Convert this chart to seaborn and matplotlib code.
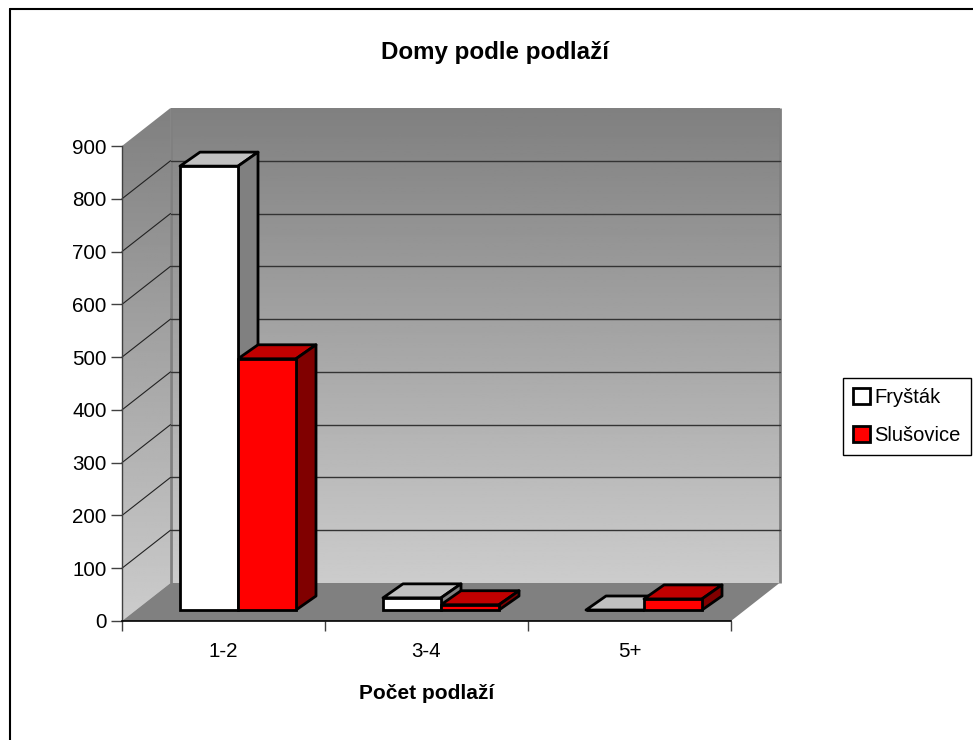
import numpy as np
import pandas as pd
import matplotlib
matplotlib.use('Agg')
import matplotlib.pyplot as plt
from matplotlib.lines import Line2D
from matplotlib.patches import Polygon, Rectangle
import seaborn as sns

sns.set_style('white')
plt.rcParams['font.family'] = ['Liberation Sans', 'DejaVu Sans']
plt.rcParams['text.color'] = 'black'
plt.rcParams['xtick.labelcolor'] = 'black'
plt.rcParams['ytick.labelcolor'] = 'black'
plt.rcParams['axes.labelcolor'] = 'black'

categories = ['1-2', '3-4', '5+']
frystak = [841, 23, 0]
slusovice = [476, 10, 21]
y_ticks = [0, 100, 200, 300, 400, 500, 600, 700, 800, 900]

W, H = 973, 740
fig = plt.figure(figsize=(W / 100, H / 100), dpi=100)
# axes rectangle = front plane of the 3d box, in pixels of the reference
L, R, B, T = 122, 731, 621, 146
ax = fig.add_axes([L / W, 1 - B / H, (R - L) / W, (B - T) / H])

df = pd.DataFrame({
    'cat': categories * 2,
    'val': frystak + slusovice,
    'mesto': ['Fryšták'] * 3 + ['Slušovice'] * 3,
})
sns.barplot(data=df, x='cat', y='val', hue='mesto', palette=['white', '#ff0000'],
            width=116 / 203, gap=0, saturation=1, edgecolor='black', linewidth=2,
            legend=False, ax=ax, zorder=6)
ax.set_xlim(-0.5, 2.5)
ax.set_ylim(0, 900)

# pixels to data units
px = 3 / (R - L)
py = 900 / (B - T)


def shifted(pts, dx, dy):
    return [(x + dx * px, y + dy * py) for x, y in pts]


def poly(pts, z=2, **kw):
    p = Polygon(pts, closed=True, clip_on=False, zorder=z, **kw)
    ax.add_patch(p)
    return p


bars = [b for b in ax.patches if isinstance(b, Rectangle)][:6]

# walls, first row of the gradient is the bottom
DX, DY = 48.5, 38
x0, x1 = ax.get_xlim()
grad = np.linspace(204, 128, 256).reshape(-1, 1)
back = ax.imshow(grad, cmap='gray', vmin=0, vmax=255, aspect='auto', origin='lower', zorder=1,
                 extent=[x0 + DX * px, x1 + DX * px, DY * py, 900 + DY * py])
back.set_clip_on(False)
left_pts = [(x0, 0), (x0 + DX * px, DY * py), (x0 + DX * px, 900 + DY * py), (x0, 900)]
left = ax.imshow(grad, cmap='gray', vmin=0, vmax=255, aspect='auto', origin='lower', zorder=1,
                 extent=[x0, x0 + DX * px, 0, 900 + DY * py])
left.set_clip_path(Polygon(left_pts, closed=True, transform=ax.transData))
left.set_clip_box(fig.bbox)
ax.set_xlim(x0, x1)
ax.set_ylim(0, 900)

poly([(x0, 0), (x1, 0), (x1 + DX * px, DY * py), (x0 + DX * px, DY * py)], z=3, facecolor='#808080', edgecolor='none')
ax.plot([x0 + DX * px] * 2, [DY * py, 900 + DY * py], color='#808080', lw=2, clip_on=False, zorder=2, solid_capstyle='butt')
ax.plot([x1 + DX * px] * 2, [DY * py, 900 + DY * py], color='#808080', lw=2, clip_on=False, zorder=2, solid_capstyle='butt')

for v in y_ticks[1:-1]:
    ax.plot([x0 + DX * px, x1 + DX * px], [v + DY * py] * 2, color='#333333', lw=1, clip_on=False, zorder=2.5)
    ax.plot([x0, x0 + DX * px], [v, v + DY * py], color='#222222', lw=0.8, clip_on=False, zorder=2.5)

# 3d sides of the bars, the front faces come from seaborn
FX, FY = 14.5, 11
BX, BY = 20, 14
for b in bars:
    b.set_x(b.get_x() + FX * px)
    b.set_y(FY * py)
    b.set_clip_on(False)
    xa, xb = b.get_x(), b.get_x() + b.get_width()
    ya, yb = FY * py, FY * py + b.get_height()
    red = b.get_facecolor()[1] < 0.5
    top_c = '#c00000' if red else '#c0c0c0'
    side_c = '#800000' if red else '#808080'
    poly([(xa, yb), (xb, yb)] + shifted([(xb, yb), (xa, yb)], BX, BY), z=5,
         facecolor=top_c, edgecolor='black', linewidth=2, joinstyle='round')
    if b.get_height() > 0:
        poly([(xb, ya), (xb, yb)] + shifted([(xb, yb), (xb, ya)], BX, BY), z=5,
             facecolor=side_c, edgecolor='black', linewidth=2, joinstyle='round')

# axes lines and ticks
sns.despine(ax=ax, top=True, right=True)
ax.spines['left'].set_color('#404040')
ax.spines['left'].set_linewidth(1)
ax.spines['left'].set_zorder(7)
ax.spines['bottom'].set_color('black')
ax.spines['bottom'].set_linewidth(1.2)
ax.spines['bottom'].set_zorder(7)
ax.set_yticks(y_ticks)
ax.set_yticklabels([str(v) for v in y_ticks], fontsize=14.8)
ax.set_xticks([0, 1, 2], categories, fontsize=14.8)
ax.set_xticks([-0.5, 0.5, 1.5, 2.5], minor=True)
ax.tick_params(axis='y', length=8, width=1, color='#404040', pad=3, left=True)
ax.tick_params(axis='x', which='major', length=0, pad=15)
ax.tick_params(axis='x', which='minor', length=7, width=1, color='#404040', bottom=True)
ax.set_xlabel('Počet podlaží', fontsize=15, fontweight='bold', labelpad=17)
ax.set_ylabel('')

fig.text(495 / W, 1 - 52 / H, 'Domy podle podlaží', fontsize=17.4, fontweight='bold',
         ha='center', va='center', color='black')

# legend
handles = [Rectangle((0, 0), 1, 1, facecolor='white', edgecolor='black', linewidth=2),
           Rectangle((0, 0), 1, 1, facecolor='#ff0000', edgecolor='black', linewidth=2)]
leg = fig.legend(handles, ['Fryšták', 'Slušovice'], loc='center left', fontsize=14.5,
                 bbox_to_anchor=(843 / W, 1 - 416.5 / H), frameon=True, fancybox=False, framealpha=1,
                 edgecolor='black', handlelength=0.85, handleheight=0.85, handletextpad=0.2,
                 labelspacing=0.95, borderpad=0.5, borderaxespad=0, labelcolor='black')

# chart frame, only left and top edges fall inside the picture
fig.add_artist(Line2D([10 / W, 10 / W], [0, 1 - 9 / H], color='black', lw=1.5, transform=fig.transFigure))
fig.add_artist(Line2D([10 / W, 1], [1 - 9 / H, 1 - 9 / H], color='black', lw=1.5, transform=fig.transFigure))

fig.savefig('out.png', dpi=100)
